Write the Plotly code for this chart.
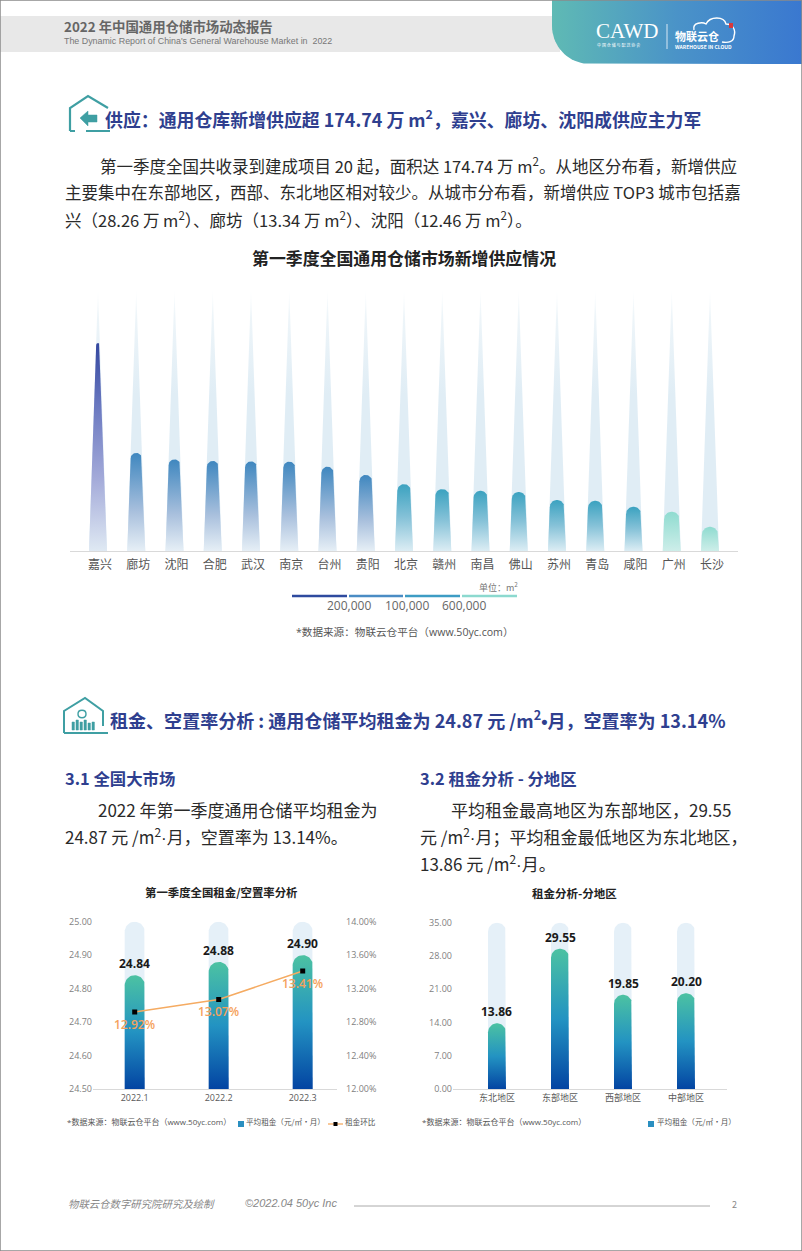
#
# Plot supply / rent report page
#
import numpy as np
import plotly.graph_objects as go

W, H = 802, 1251
FONT = "Open Sans, Noto Sans CJK SC"
CJK = "Noto Sans CJK SC"
NAVY = "#2f3f8f"
TEAL = "#3f9fa3"
DOT = "<span style='font-family:Liberation Sans'>·</span>"
BIG_DOT = "<span style='font-family:Liberation Sans'>•</span>"

# supply chart data
cities = ["嘉兴", "廊坊", "沈阳", "合肥", "武汉", "南京", "台州", "贵阳", "北京",
          "赣州", "南昌", "佛山", "苏州", "青岛", "咸阳", "广州", "长沙"]
supply = [282600, 133400, 124600, 122300, 121800, 121500, 114500, 103300, 91000,
          84200, 82000, 80200, 69300, 68300, 60200, 53400, 33000]
supply_max = 354600
legend_ticks = ["200,000", "100,000", "600,000"]

# national rent chart data
months = ["2022.1", "2022.2", "2022.3"]
rent = [24.84, 24.88, 24.90]
vacancy = [12.92, 13.07, 13.41]
rent_ticks = [24.5, 24.6, 24.7, 24.8, 24.9, 25.0]
vacancy_ticks = [12.0, 12.4, 12.8, 13.2, 13.6, 14.0]

# regional rent chart data
regions = ["东北地区", "东部地区", "西部地区", "中部地区"]
region_rent = [13.86, 29.55, 19.85, 20.20]
region_ticks = [0, 7, 14, 21, 28, 35]


def px(x):
    return x / W


def py(y):
    return 1 - y / H


def tier(v):
    # colour group of a city bar, bottom colour first
    if v > 200000:
        return [[0, "#dfe9f3"], [0.35, "#a3aad9"], [0.7, "#6a78c0"], [1, "#33479f"]]
    if v > 100000:
        return [[0, "#e6eff6"], [0.4, "#a9c0dd"], [1, "#3f87bf"]]
    if v > 55000:
        return [[0, "#dcedf4"], [0.5, "#86c2d8"], [1, "#3ba2c0"]]
    return [[0, "#cdeee9"], [1, "#8fdbd0"]]


def capsule(c, top, base, half, ry):
    a = np.linspace(0, np.pi, 24)
    xs = c + half * np.cos(a)
    ys = top - ry + ry * np.sin(a)
    return [c + half, *xs, c - half], [base, *ys, base]


def fill_trace(xs, ys, scale, xa, ya, orient="vertical"):
    return go.Scatter(x=xs, y=ys, xaxis=xa, yaxis=ya, mode="lines", fill="toself",
                      line=dict(width=0), hoverinfo="skip", showlegend=False,
                      fillgradient=dict(type=orient, colorscale=scale))


bar_scale = [[0, "#0344a2"], [0.5, "#2393c2"], [1, "#4cc2a2"]]
back_scale = [[0, "#e5f0f8"], [1, "#e5f0f8"]]

fig = go.Figure()

# logo band
a = np.linspace(np.pi / 2, np.pi, 20)
band_x = [552, 802, 802, *(590 + 38 * np.cos(a))]
band_y = [0, 0, 64, *(26 + 38 * np.sin(a))]
fig.add_trace(fill_trace(band_x, band_y, [[0, "#5fbab4"], [0.5, "#4a93c8"], [1, "#3a78d0"]],
                         "x4", "y5", "horizontal"))

# supply chart: same taper for the pale spike and the value bar
plot_h = 261.0
half_base = 9 / 38.25
for i, v in enumerate(supply):
    fig.add_trace(fill_trace([i + half_base, i, i - half_base], [0, supply_max, 0],
                             [[0, "#e0edf5"], [0.6, "#e0edf5"], [0.9, "#eef5f9"], [1, "#fbfdfe"]],
                             "x", "y"))
for i, v in enumerate(supply):
    half = half_base * (1 - v / supply_max)
    ry = half * 38.25 * supply_max / plot_h
    xs, ys = capsule(i, v, 0, half, ry)
    # widen towards the base so the bar keeps following the spike
    xs[0], xs[-1] = i + half_base, i - half_base
    fig.add_trace(fill_trace(xs, ys, tier(v), "x", "y"))

# national rent chart
unit_y = 0.5 / 167.3
half = 10 / 84
for i, v in enumerate(rent):
    xs, ys = capsule(i, 25.0, 24.5, half, 10 * unit_y)
    fig.add_trace(fill_trace(xs, ys, back_scale, "x2", "y2"))
for i, v in enumerate(rent):
    xs, ys = capsule(i, v, 24.5, half, 10 * unit_y)
    fig.add_trace(fill_trace(xs, ys, bar_scale, "x2", "y2"))
fig.add_trace(go.Scatter(x=list(range(3)), y=vacancy, xaxis="x2", yaxis="y3",
                         mode="lines+markers",
                         line=dict(color="#f5ab62", width=1.5),
                         marker=dict(symbol="square", size=5, color="#000000"),
                         hoverinfo="skip", showlegend=False))

# regional rent chart
unit_y = 35 / 166.6
half = 9 / 63
for i, v in enumerate(region_rent):
    xs, ys = capsule(i, 35, 0, half, 9 * unit_y)
    fig.add_trace(fill_trace(xs, ys, back_scale, "x3", "y4"))
for i, v in enumerate(region_rent):
    xs, ys = capsule(i, v, 0, half, 9 * unit_y)
    fig.add_trace(fill_trace(xs, ys, bar_scale, "x3", "y4"))

ann = []
shapes = []


def text(x, y, s, size, color="#333333", weight=400, anchor="left", style="normal", family=CJK):
    # annotations carry a small pad, pull them back onto the measured spot
    dx = {"left": -2.5, "right": 2.5}.get(anchor, 0)
    ann.append(dict(xref="paper", yref="paper", x=px(x + dx), y=py(y - 1.7), text=s, showarrow=False,
                    xanchor=anchor, yanchor="middle", align=anchor,
                    font=dict(size=size, color=color, family=family, weight=weight, style=style)))


def value_label(xa, ya, x, y, s, color, below=False, weight=700):
    ann.append(dict(xref=xa, yref=ya, x=x, y=y, text=s, showarrow=False, xanchor="center",
                    yanchor="top" if below else "bottom", yshift=-2 if below else 1,
                    font=dict(size=12, color=color, family=FONT, weight=weight)))


def line(x0, y0, x1, y1, color, width=1):
    shapes.append(dict(type="line", xref="paper", yref="paper", x0=px(x0), x1=px(x1),
                       y0=py(y0), y1=py(y1), line=dict(color=color, width=width)))


def rect(x0, y0, x1, y1, color, layer="below"):
    shapes.append(dict(type="rect", xref="paper", yref="paper", x0=px(x0), x1=px(x1),
                       y0=py(y0), y1=py(y1), fillcolor=color, line=dict(width=0), layer=layer))


def path(d, color, width=2, fill=None):
    shapes.append(dict(type="path", xref="x4", yref="y5", path=d,
                       line=dict(color=color, width=width), fillcolor=fill or "rgba(0,0,0,0)"))


for i, v in enumerate(rent):
    value_label("x2", "y2", i, v, f"{v:.2f}", "#1a1a1a")
for i, v in enumerate(vacancy):
    value_label("x2", "y3", i, v, f"{v:.2f}%", "#f5a25c", below=True, weight=600)
for i, v in enumerate(region_rent):
    value_label("x3", "y4", i, v, f"{v:.2f}", "#1a1a1a")

# header
rect(0, 16, 560, 52, "#e8e8e8")
shapes.append(dict(type="rect", xref="paper", yref="paper", x0=0, x1=1, y0=0, y1=1,
                   line=dict(color="#8a8a8a", width=1.5)))
text(64, 28, "2022 年中国通用仓储市场动态报告", 13.4, "#666666", 700)
text(64, 43, "The Dynamic Report of China's General Warehouse Market in  2022", 8.9, "#777777",
     family="Liberation Sans")
text(596, 33, "CAWD", 21, "#ffffff", family="Liberation Serif")
text(597, 47, "中 国 仓 储 与 配 送 协 会", 4, "#ffffff")
line(667, 24, 667, 49, "#d8e8f4")
text(675, 38, "物联云仓", 11, "#ffffff", 700)
text(675, 48, "WAREHOUSE IN CLOUD", 5, "#ffffff", 700)
path("M 694 30 C 692 22 703 22 706 24 C 710 16 724 16 726 24 C 733 24 736 30 734 36 "
     "C 734 42 728 43 722 42", "#ffffff", 1.4)
rect(729, 23, 733, 28, "#d8383c", layer="above")

# section 1
path("M 70 131 L 70 108 L 88 96 L 108 108 M 70 131 L 75 131 M 86 131 L 110 131", TEAL, 2.2)
path("M 80 118 L 88 111 L 88 115 L 97 115 L 97 122 L 88 122 L 88 126 Z", TEAL, 0.5, TEAL)
text(105, 120, "供应：通用仓库新增供应超 174.74 万 m<sup>2</sup>，嘉兴、廊坊、沈阳成供应主力军",
     17.9, NAVY, 700)
for y, x, s in [(166, 100, "第一季度全国共收录到建成项目 20 起，面积达 174.74 万 m<sup>2</sup>。从地区分布看，新增供应"),
                (193, 65, "主要集中在东部地区，西部、东北地区相对较少。从城市分布看，新增供应 TOP3 城市包括嘉"),
                (220, 65, "兴（28.26 万 m<sup>2</sup>）、廊坊（13.34 万 m<sup>2</sup>）、沈阳（12.46 万 m<sup>2</sup>）。")]:
    text(x, y + 1, s, 16.5, "#2a2a2a")
text(404, 259, "第一季度全国通用仓储市场新增供应情况", 16.9, "#222222", 700, "center")

# supply legend, segments carry the four colour groups
for x0, x1, c in [(292, 347, "#2e4a9e"), (349, 403, "#4a8cc4"), (405, 460, "#3d9cc4"), (462, 517, "#8cd9cf")]:
    line(x0, 596, x1, 596, c, 2.5)
for x, s in zip([349, 407, 464], legend_ticks):
    text(x, 607, s, 12, "#666666", anchor="center", family=FONT)
text(517, 589, "单位：m<sup>2</sup>", 9, "#777777", anchor="right")
text(296, 634, "*数据来源：物联云仓平台（www.50yc.com）", 10.6, "#555555", family=FONT)

# section 3
path("M 64 733 L 64 711 L 85 698 L 103 711 L 103 726 M 64 733 L 108 733", TEAL, 2)
for x0, y0 in [(72, 722), (76, 720), (80, 722), (84, 720), (88, 723), (92, 722)]:
    path(f"M {x0} {y0} L {x0 + 2.4} {y0} L {x0 + 2.4} 730 L {x0} 730 Z", TEAL, 0.5, TEAL)
path("M 78 714 C 78 709 86 709 86 714 C 86 719 78 719 78 714 Z", TEAL, 1.4)
text(110, 721, f"租金、空置率分析 : 通用仓储平均租金为 24.87 元 /m<sup>2</sup>{BIG_DOT}月，空置率为 13.14%",
     18.05, NAVY, 700)
text(65, 780, "3.1 全国大市场", 16.4, NAVY, 700)
text(420, 780, "3.2 租金分析 - 分地区", 16.4, NAVY, 700)
for y, x, s in [(811, 98, "2022 年第一季度通用仓储平均租金为"),
                (838, 65, f"24.87 元 /m<sup>2</sup>{DOT}月，空置率为 13.14%。"),
                (811, 451, "平均租金最高地区为东部地区，29.55"),
                (838, 420, f"元 /m<sup>2</sup>{DOT}月；平均租金最低地区为东北地区，"),
                (865, 420, f"13.86 元 /m<sup>2</sup>{DOT}月。")]:
    text(x, y, s, 17, "#2a2a2a")

# small chart titles and notes
text(221.5, 894, "第一季度全国租金/空置率分析", 11.4, "#222222", 700, "center")
text(574, 895, "租金分析-分地区", 11.5, "#222222", 700, "center")
text(67, 1123, "*数据来源：物联云仓平台（www.50yc.com）", 8, "#555555", family=FONT)
rect(238, 1121, 244, 1127, "#2a8fc0")
text(246, 1123.5, "平均租金（元/㎡·月）", 7.6, "#555555")
line(328, 1124, 343, 1124, "#f5ab62", 1.3)
rect(333.5, 1122, 337.5, 1126, "#000000", layer="above")
text(345, 1123.5, "租金环比", 7.6, "#555555")
text(422, 1123, "*数据来源：物联云仓平台（www.50yc.com）", 8, "#555555", family=FONT)
rect(648, 1121, 654, 1127, "#2a8fc0")
text(657, 1123.5, "平均租金（元/㎡·月）", 7.6, "#555555")

# footer
text(68, 1205, "物联云仓数字研究院研究及绘制", 10.4, "#888888", style="italic")
text(245, 1205, "©2022.04 50yc Inc", 11, "#888888", style="italic", family="Liberation Sans")
line(354, 1206, 710, 1206, "#aaaaaa", 1)
text(734, 1206, "2", 9, "#888888", anchor="center")

axis_line = dict(showline=True, linecolor="#d9d9d9", linewidth=1, zeroline=False, showgrid=False,
                 ticks="", fixedrange=True)
tick_font = dict(size=9, color="#7f7f7f", family=FONT)
x_font = dict(size=9, color="#595959", family=FONT)

fig.update_layout(
    width=W, height=H, margin=dict(l=0, r=0, t=0, b=0, autoexpand=False), autosize=False,
    paper_bgcolor="#ffffff", plot_bgcolor="rgba(0,0,0,0)", showlegend=False, hovermode=False,
    annotations=ann, shapes=shapes, font=dict(family=FONT),
    xaxis=dict(axis_line, domain=[px(70), px(738)], range=[(70 - 98) / 38.25, (738 - 98) / 38.25],
               tickvals=list(range(len(cities))), ticktext=cities,
               tickfont=dict(size=12, color="#555555", family=CJK), ticklabelstandoff=3,
               ticklabelshift=2),
    yaxis=dict(domain=[py(551), py(290)], range=[0, supply_max], visible=False, anchor="x"),
    xaxis2=dict(axis_line, domain=[px(93), px(337)], range=[(93 - 134.7) / 84, (337 - 134.7) / 84],
                tickvals=list(range(3)), ticktext=months, tickfont=x_font, anchor="y2"),
    yaxis2=dict(domain=[py(1089), py(921.7)], range=[24.5, 25.0], showgrid=False, zeroline=False,
                tickvals=rent_ticks, ticktext=[f"{v:.2f}" for v in rent_ticks],
                tickfont=tick_font, anchor="x2"),
    yaxis3=dict(domain=[py(1089), py(921.7)], range=[12, 14], overlaying="y2", side="right",
                showgrid=False, zeroline=False, tickvals=vacancy_ticks,
                ticktext=[f"{v:.2f}%" for v in vacancy_ticks],
                tickfont=tick_font, anchor="x2", ticklabelstandoff=8),
    xaxis3=dict(axis_line, domain=[px(453), px(727)], range=[(453 - 497) / 63, (727 - 497) / 63],
                tickvals=list(range(4)), ticktext=regions, tickfont=x_font, anchor="y4"),
    yaxis4=dict(domain=[py(1089.3), py(922.7)], range=[0, 35], showgrid=False, zeroline=False,
                tickvals=region_ticks, ticktext=[f"{v:.2f}" for v in region_ticks],
                tickfont=tick_font, anchor="x3"),
    xaxis4=dict(domain=[0, 1], range=[0, W], visible=False, anchor="y5", fixedrange=True),
    yaxis5=dict(domain=[0, 1], range=[H, 0], visible=False, anchor="x4", fixedrange=True),
)

fig.write_html("out.html", config=dict(displayModeBar=False),
               post_script="document.body.style.margin='0';")
